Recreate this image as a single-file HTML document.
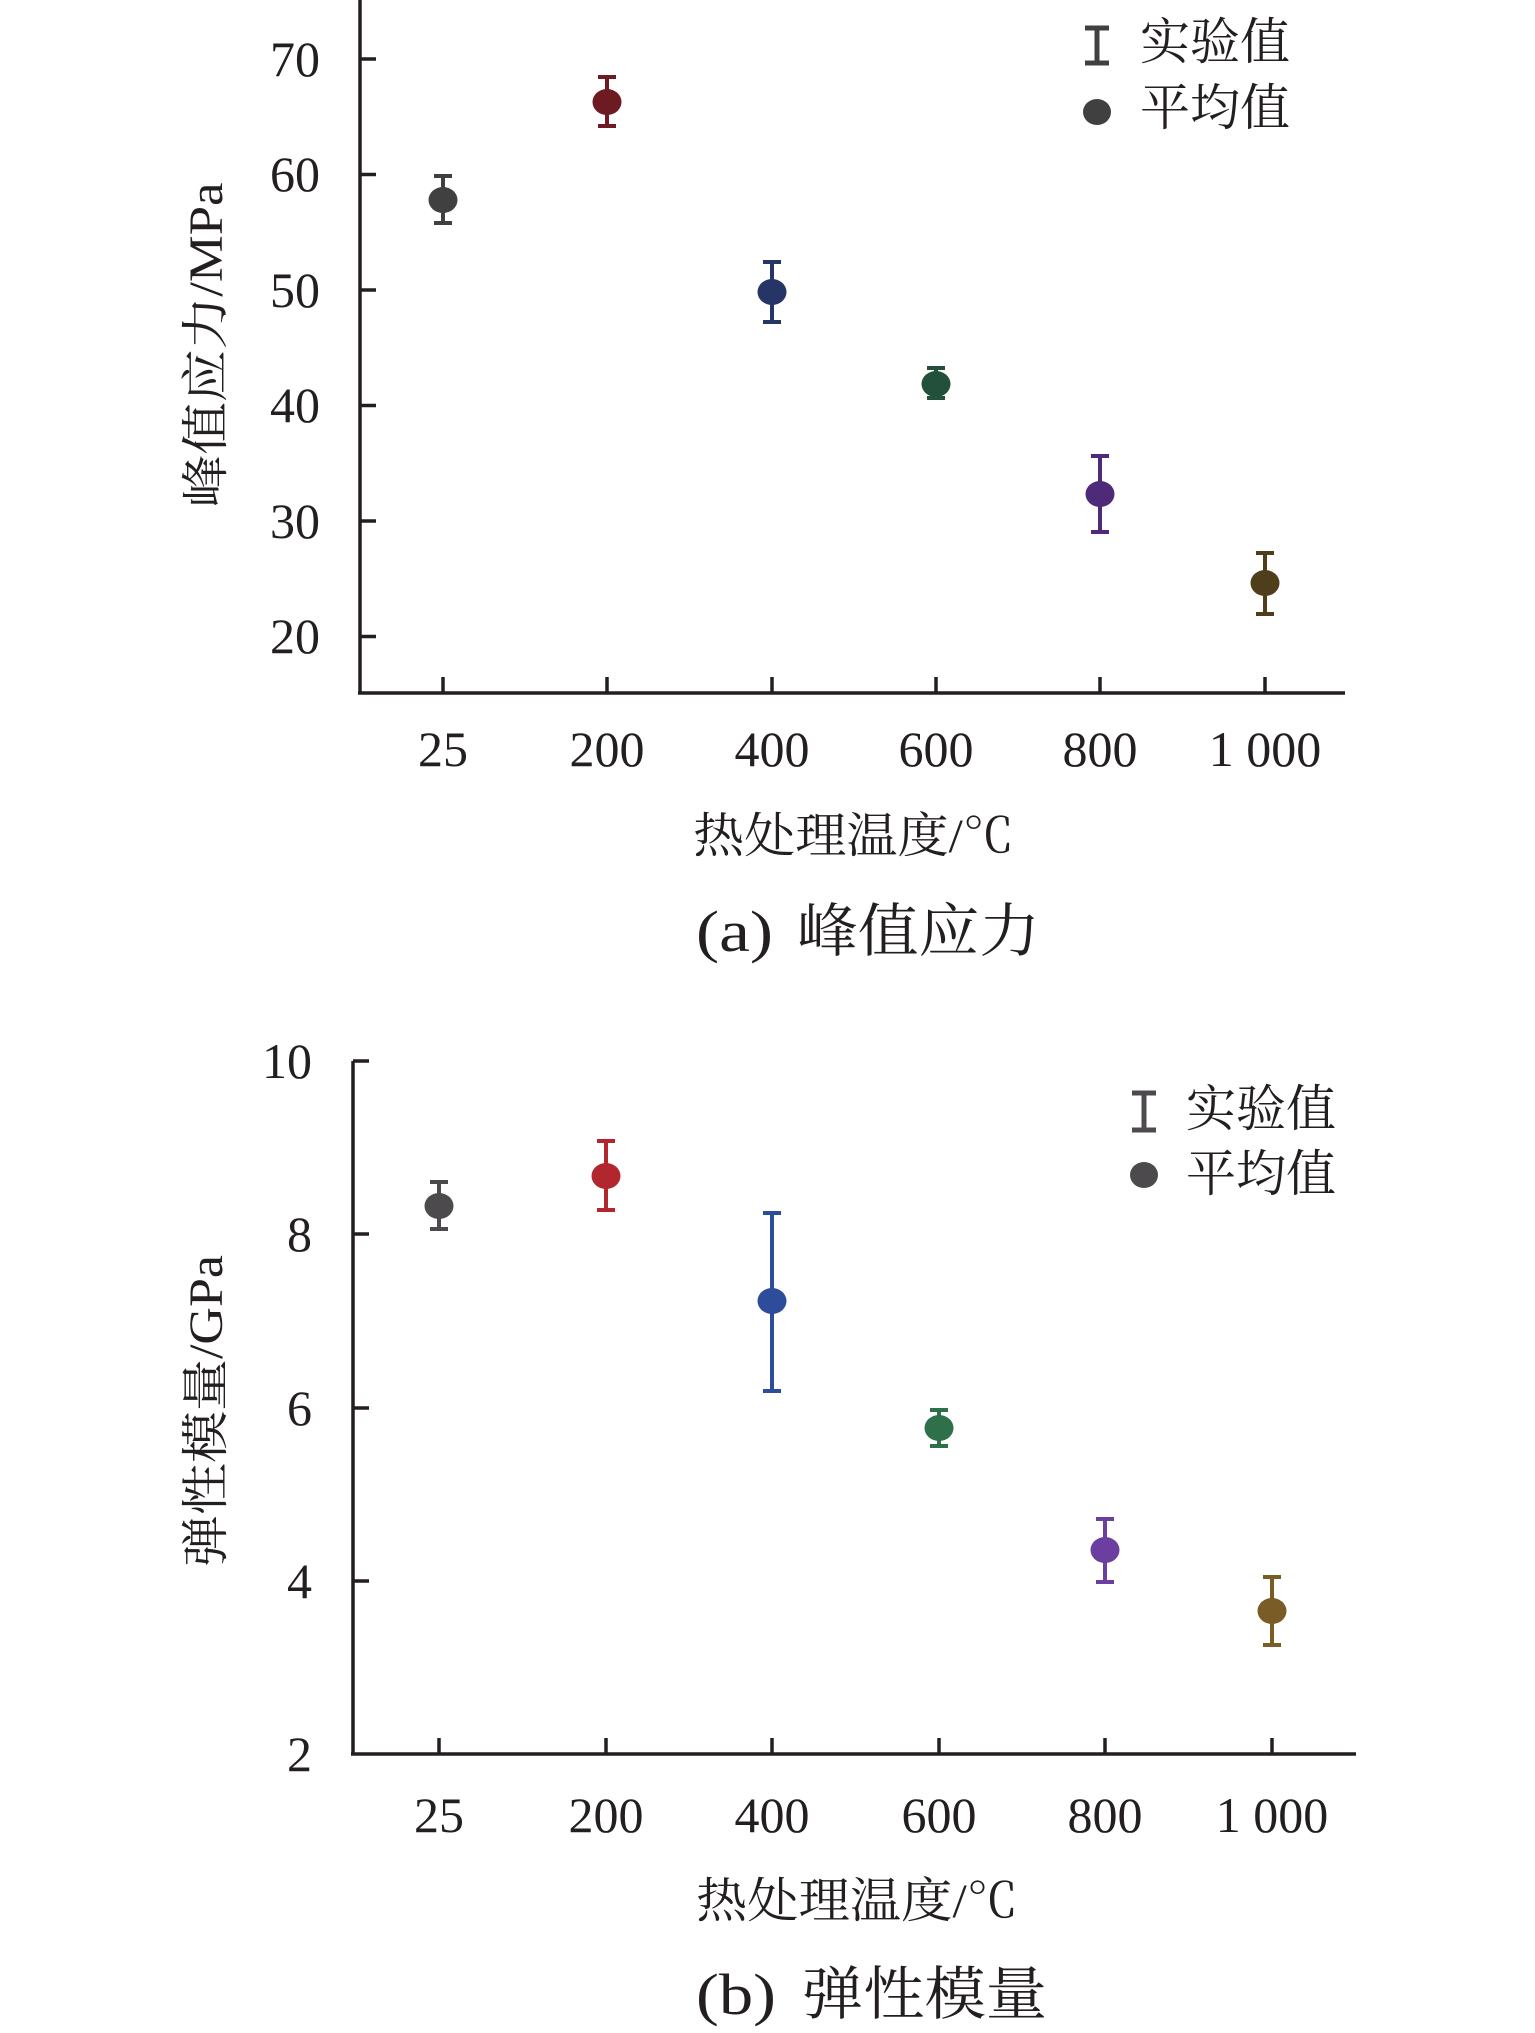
<!DOCTYPE html>
<html><head><meta charset="utf-8"><style>
html,body{margin:0;padding:0;background:#fff;}
svg{display:block;}
text{font-family:"Liberation Serif","Noto Serif CJK SC",serif;fill:#231f20;}
</style></head><body>
<svg width="1535" height="2033" viewBox="0 0 1535 2033" xmlns="http://www.w3.org/2000/svg">
<!-- Top chart -->
<g stroke="#231f20" stroke-width="3.5" fill="none">
<line x1="360" y1="0" x2="360" y2="693"/>
<line x1="358" y1="693" x2="1345" y2="693"/>
<line x1="360" y1="59" x2="376" y2="59"/>
<line x1="360" y1="174.5" x2="376" y2="174.5"/>
<line x1="360" y1="290" x2="376" y2="290"/>
<line x1="360" y1="405.5" x2="376" y2="405.5"/>
<line x1="360" y1="521" x2="376" y2="521"/>
<line x1="360" y1="636.5" x2="376" y2="636.5"/>
<line x1="443" y1="693" x2="443" y2="677"/>
<line x1="607" y1="693" x2="607" y2="677"/>
<line x1="772" y1="693" x2="772" y2="677"/>
<line x1="936" y1="693" x2="936" y2="677"/>
<line x1="1100" y1="693" x2="1100" y2="677"/>
<line x1="1265" y1="693" x2="1265" y2="677"/>
</g>
<g font-size="50" text-anchor="end">
<text x="320" y="76">70</text>
<text x="320" y="191">60</text>
<text x="320" y="307">50</text>
<text x="320" y="422">40</text>
<text x="320" y="538">30</text>
<text x="320" y="653">20</text>
</g>
<g font-size="50" text-anchor="middle">
<text x="443" y="766">25</text>
<text x="607" y="766">200</text>
<text x="772" y="766">400</text>
<text x="936" y="766">600</text>
<text x="1100" y="766">800</text>
<text x="1265" y="766">1 000</text>
</g>
<text x="693" y="852" font-size="48" textLength="321" lengthAdjust="spacingAndGlyphs">热处理温度/℃</text>
<text x="696" y="951" font-size="58" textLength="77" lengthAdjust="spacingAndGlyphs">(a)</text>
<text x="797" y="951" font-size="58" textLength="243" lengthAdjust="spacingAndGlyphs">峰值应力</text>
<text transform="translate(222,345) rotate(-90)" font-size="48" text-anchor="middle" textLength="325" lengthAdjust="spacingAndGlyphs">峰值应力/MPa</text>
<g stroke-width="4">
<g stroke="#404040" fill="#404040"><line x1="443" y1="176" x2="443" y2="223"/><line x1="434" y1="176" x2="452" y2="176"/><line x1="434" y1="223" x2="452" y2="223"/><ellipse cx="443" cy="200" rx="14.5" ry="13" stroke="none"/></g>
<g stroke="#6e1a22" fill="#6e1a22"><line x1="607" y1="77" x2="607" y2="126"/><line x1="598" y1="77" x2="616" y2="77"/><line x1="598" y1="126" x2="616" y2="126"/><ellipse cx="607" cy="102" rx="14.5" ry="13" stroke="none"/></g>
<g stroke="#253666" fill="#253666"><line x1="772" y1="262" x2="772" y2="322"/><line x1="763" y1="262" x2="781" y2="262"/><line x1="763" y1="322" x2="781" y2="322"/><ellipse cx="772" cy="292" rx="14.5" ry="13" stroke="none"/></g>
<g stroke="#23503a" fill="#23503a"><line x1="936" y1="368" x2="936" y2="398"/><line x1="927" y1="368" x2="945" y2="368"/><line x1="927" y1="398" x2="945" y2="398"/><ellipse cx="936" cy="384" rx="14.5" ry="13" stroke="none"/></g>
<g stroke="#4e2a78" fill="#4e2a78"><line x1="1100" y1="456" x2="1100" y2="532"/><line x1="1091" y1="456" x2="1109" y2="456"/><line x1="1091" y1="532" x2="1109" y2="532"/><ellipse cx="1100" cy="494" rx="14.5" ry="13" stroke="none"/></g>
<g stroke="#4e3e1c" fill="#4e3e1c"><line x1="1265" y1="553" x2="1265" y2="614"/><line x1="1256" y1="553" x2="1274" y2="553"/><line x1="1256" y1="614" x2="1274" y2="614"/><ellipse cx="1265" cy="583" rx="14.5" ry="13" stroke="none"/></g>
</g>
<g stroke="#404040" stroke-width="5" fill="#404040">
<line x1="1097" y1="28" x2="1097" y2="63"/><line x1="1085" y1="28" x2="1109" y2="28"/><line x1="1085" y1="63" x2="1109" y2="63"/>
<ellipse cx="1097" cy="112" rx="14" ry="13" stroke="none"/>
</g>
<text x="1140" y="59" font-size="50">实验值</text>
<text x="1140" y="125" font-size="50">平均值</text>

<!-- Bottom chart -->
<g stroke="#231f20" stroke-width="3.5" fill="none">
<line x1="353" y1="1061" x2="353" y2="1754"/>
<line x1="351" y1="1754" x2="1356" y2="1754"/>
<line x1="353" y1="1061" x2="369" y2="1061"/>
<line x1="353" y1="1234" x2="369" y2="1234"/>
<line x1="353" y1="1408" x2="369" y2="1408"/>
<line x1="353" y1="1581" x2="369" y2="1581"/>
<line x1="439" y1="1754" x2="439" y2="1738"/>
<line x1="606" y1="1754" x2="606" y2="1738"/>
<line x1="772" y1="1754" x2="772" y2="1738"/>
<line x1="939" y1="1754" x2="939" y2="1738"/>
<line x1="1105" y1="1754" x2="1105" y2="1738"/>
<line x1="1272" y1="1754" x2="1272" y2="1738"/>
</g>
<g font-size="50" text-anchor="end">
<text x="312" y="1078">10</text>
<text x="312" y="1251">8</text>
<text x="312" y="1425">6</text>
<text x="312" y="1598">4</text>
<text x="312" y="1771">2</text>
</g>
<g font-size="50" text-anchor="middle">
<text x="439" y="1832">25</text>
<text x="606" y="1832">200</text>
<text x="772" y="1832">400</text>
<text x="939" y="1832">600</text>
<text x="1105" y="1832">800</text>
<text x="1272" y="1832">1 000</text>
</g>
<text x="696" y="1917" font-size="48" textLength="322" lengthAdjust="spacingAndGlyphs">热处理温度/℃</text>
<text x="696" y="2014" font-size="58" textLength="80" lengthAdjust="spacingAndGlyphs">(b)</text>
<text x="802" y="2014" font-size="58" textLength="245" lengthAdjust="spacingAndGlyphs">弹性模量</text>
<text transform="translate(222,1411) rotate(-90)" font-size="48" text-anchor="middle" textLength="312" lengthAdjust="spacingAndGlyphs">弹性模量/GPa</text>
<g stroke-width="4">
<g stroke="#4d4a4e" fill="#4d4a4e"><line x1="439" y1="1182" x2="439" y2="1229"/><line x1="430" y1="1182" x2="448" y2="1182"/><line x1="430" y1="1229" x2="448" y2="1229"/><ellipse cx="439" cy="1206" rx="14.5" ry="13" stroke="none"/></g>
<g stroke="#b2262e" fill="#b2262e"><line x1="606" y1="1141" x2="606" y2="1210"/><line x1="597" y1="1141" x2="615" y2="1141"/><line x1="597" y1="1210" x2="615" y2="1210"/><ellipse cx="606" cy="1176" rx="14.5" ry="13" stroke="none"/></g>
<g stroke="#2d4d9a" fill="#2d4d9a"><line x1="772" y1="1213" x2="772" y2="1391"/><line x1="763" y1="1213" x2="781" y2="1213"/><line x1="763" y1="1391" x2="781" y2="1391"/><ellipse cx="772" cy="1301" rx="14.5" ry="13" stroke="none"/></g>
<g stroke="#2e704a" fill="#2e704a"><line x1="939" y1="1410" x2="939" y2="1446"/><line x1="930" y1="1410" x2="948" y2="1410"/><line x1="930" y1="1446" x2="948" y2="1446"/><ellipse cx="939" cy="1428" rx="14.5" ry="13" stroke="none"/></g>
<g stroke="#6a3fa0" fill="#6a3fa0"><line x1="1105" y1="1519" x2="1105" y2="1582"/><line x1="1096" y1="1519" x2="1114" y2="1519"/><line x1="1096" y1="1582" x2="1114" y2="1582"/><ellipse cx="1105" cy="1550" rx="14.5" ry="13" stroke="none"/></g>
<g stroke="#7a5c26" fill="#7a5c26"><line x1="1272" y1="1577" x2="1272" y2="1645"/><line x1="1263" y1="1577" x2="1281" y2="1577"/><line x1="1263" y1="1645" x2="1281" y2="1645"/><ellipse cx="1272" cy="1611" rx="14.5" ry="13" stroke="none"/></g>
</g>
<g stroke="#4d4a4e" stroke-width="5" fill="#4d4a4e">
<line x1="1144" y1="1093" x2="1144" y2="1130"/><line x1="1132" y1="1093" x2="1156" y2="1093"/><line x1="1132" y1="1130" x2="1156" y2="1130"/>
<ellipse cx="1144" cy="1175" rx="14" ry="13" stroke="none"/>
</g>
<text x="1186" y="1126" font-size="50">实验值</text>
<text x="1186" y="1191" font-size="50">平均值</text>
</svg>
</body></html>
